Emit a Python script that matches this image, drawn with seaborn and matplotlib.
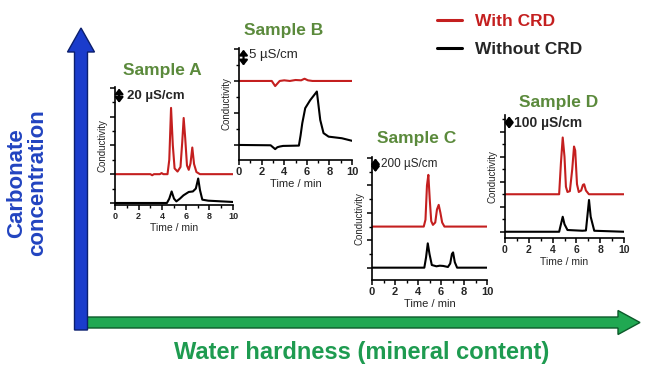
import matplotlib.pyplot as plt
import numpy as np
import seaborn as sns
from matplotlib.lines import Line2D
from matplotlib.patches import FancyArrow
from matplotlib.ticker import MultipleLocator

sns.set_theme(style="ticks")
plt.rcParams["font.family"] = ["Liberation Sans", "DejaVu Sans"]

W, H = 659, 379
RED = "#c41f1f"
OLIVE = "#5b8a3c"

# chromatograms: time (min) and conductivity above baseline (uS/cm)
time_a_crd = [0, 3.0, 3.15, 3.3, 3.8, 3.95, 4.1, 4.45, 4.6, 4.75, 4.9, 5.05, 5.3, 5.55, 5.7,
              5.82, 5.95, 6.1, 6.25, 6.4, 6.55, 6.7, 6.9, 7.2, 10]
cond_a_crd = [0, 0, -1.5, 0, 0, 1.5, 0, 0, 20, 92, 40, 8, 3.6, 10, 45,
              78, 50, 12, 6, 15, 37, 14, 3, 0, 0]
time_a_raw = [0, 4.4, 4.6, 4.8, 5.0, 5.2, 5.5, 5.8, 6.25, 6.6, 6.85, 7.05, 7.2, 7.4, 7.9, 10]
cond_a_raw = [0, 0, 6, 16, 6, 2.2, 6, 10.6, 15.3, 16, 20, 34, 18, 4.6, 3.2, 1.4]

time_b_crd = [0, 2.9, 3.2, 3.4, 3.6, 4.0, 4.5, 5.0, 5.5, 5.8, 6.1, 6.5, 10]
cond_b_crd = [0, 0, -1.6, -0.8, 0, 0.2, 0, 0.3, 0.2, 0.7, 0.2, 0, 0]
time_b_raw = [0, 2.8, 3.2, 3.4, 3.6, 3.9, 5.3, 5.45, 5.6, 5.86, 6.3, 6.74, 6.89, 7.19, 7.48,
              7.93, 9.1, 10]
cond_b_raw = [0, -0.1, -1.3, -0.7, -0.5, -0.3, -0.2, 3, 6.8, 11.5, 14, 16, 16.7, 7.8, 3.7,
              2.6, 2.1, 1.3]

time_c_crd = [0, 4.5, 4.65, 4.78, 4.9, 5.02, 5.15, 5.3, 5.5, 5.65, 5.8, 5.95, 6.1, 6.3, 10]
cond_c_crd = [0, 0, 100, 600, 755, 400, 80, 25, 60, 250, 317, 200, 60, 0, 0]
time_c_raw = [0, 4.55, 4.7, 4.85, 5.0, 5.2, 5.6, 5.9, 6.2, 6.6, 6.8, 6.95, 7.05, 7.2, 7.4, 10]
cond_c_raw = [0, 0, 150, 355, 200, 39, 20, 29, 25, 10, 60, 200, 223, 80, 0, 0]

time_d_crd = [0, 4.55, 4.7, 4.85, 5.0, 5.12, 5.25, 5.45, 5.65, 5.8, 5.9, 6.05, 6.2, 6.4,
              6.55, 6.65, 6.8, 7.05, 10]
cond_d_crd = [0, 0, 250, 454, 300, 60, 18, 25, 200, 382, 350, 80, 18, 30,
              75, 80, 30, 0, 0]
time_d_raw = [0, 4.55, 4.7, 4.85, 5.0, 5.25, 6.5, 6.8, 6.95, 7.06, 7.2, 7.5, 10]
cond_d_raw = [0, 0, 60, 120, 60, 14, 8, 10, 150, 254, 120, 8, 0]

sample_names = ["Sample A", "Sample B", "Sample C", "Sample D"]
scale_units = [20, 5, 200, 100]   # uS/cm shown by the scale bar
crd_offsets = [40, 20, 600, 300]  # vertical offset of the "with CRD" trace

fig = plt.figure(figsize=(W / 100, H / 100), dpi=100)

# background canvas in pixel units for the big arrows
bg = fig.add_axes([0, 0, 1, 1])
bg.set_xlim(0, W)
bg.set_ylim(H, 0)
bg.axis("off")
bg.add_patch(FancyArrow(82, 322.5, 558, 0, width=11, head_width=24, head_length=22,
                        length_includes_head=True, fc="#20a852", ec="#0c5a2a", lw=1, zorder=2))
bg.add_patch(FancyArrow(81, 330, 0, -302, width=13, head_width=27, head_length=24,
                        length_includes_head=True, fc="#1a3ccc", ec="#0b1f6e", lw=1, zorder=3))
bg.text(27, 183, "Carbonate\nconcentration", rotation=90, ha="center", va="center",
        multialignment="center", fontsize=16, fontweight="bold", color="#2244c0",
        linespacing=1.0)
bg.text(362, 353, "Water hardness (mineral content)", ha="center", va="center",
        fontsize=17, fontweight="bold", color="#1e9b50")

# inset layout: (left, top, right, bottom) in px, ylim, tick label size
layouts = [
    dict(box=(115, 87, 233, 205), ylim=(-2.8, 161), ts=6.5, xl=7.5, title=(162, 70),
         bar_x=0.35, txt_x=1.05, txt_y=148, bold=True, fs=9.5),
    dict(box=(239, 48, 352, 160), ylim=(-4.7, 30.3), ts=8, xl=8, title=(284, 30),
         bar_x=0.4, txt_x=0.85, txt_y=28, bold=False, fs=9.5),
    dict(box=(372, 157, 487, 280), ylim=(-180, 1616), ts=8, xl=8, title=(417, 138),
         bar_x=0.3, txt_x=0.75, txt_y=1520, bold=False, fs=8.5),
    dict(box=(505, 115, 624, 238), ylim=(-50, 934), ts=7.5, xl=7.5, title=(559, 102),
         bar_x=0.35, txt_x=0.75, txt_y=870, bold=True, fs=10),
]
traces = [
    (time_a_crd, cond_a_crd, time_a_raw, cond_a_raw),
    (time_b_crd, cond_b_crd, time_b_raw, cond_b_raw),
    (time_c_crd, cond_c_crd, time_c_raw, cond_c_raw),
    (time_d_crd, cond_d_crd, time_d_raw, cond_d_raw),
]

for name, unit, off, lay, (tc, vc, tr, vr) in zip(sample_names, scale_units, crd_offsets,
                                                  layouts, traces):
    l, t, r, b = lay["box"]
    ax = fig.add_axes([l / W, 1 - b / H, (r - l) / W, (b - t) / H])
    ax.patch.set_visible(False)
    sns.lineplot(x=tr, y=vr, ax=ax, color="black", linewidth=1.5, estimator=None)
    sns.lineplot(x=tc, y=np.array(vc) + off, ax=ax, color=RED, linewidth=1.5, estimator=None)
    ax.set_xlim(0, 10)
    ax.set_ylim(*lay["ylim"])
    sns.despine(ax=ax)
    for s in ("left", "bottom"):
        ax.spines[s].set_linewidth(1.2)
        ax.spines[s].set_color("black")
    ax.xaxis.set_major_locator(MultipleLocator(2))
    ax.xaxis.set_minor_locator(MultipleLocator(1))
    ax.yaxis.set_major_locator(MultipleLocator(2 * unit))
    ax.yaxis.set_minor_locator(MultipleLocator(unit))
    ax.tick_params(which="major", direction="out", length=3.5, width=1.1, color="black",
                   pad=1.5, labelsize=lay["ts"])
    ax.tick_params(which="minor", direction="out", length=2, width=1.0, color="black")
    ax.tick_params(axis="y", labelleft=False)
    for lbl in ax.get_xticklabels():
        lbl.set_fontweight("bold")
    ax.set_xlabel("Time / min", fontsize=lay["xl"], labelpad=1.5)
    ax.set_ylabel("Conductivity", fontsize=7, labelpad=0)
    top = lay["ylim"][1] - 0.1 * unit
    ax.annotate("", xy=(lay["bar_x"], top), xytext=(lay["bar_x"], top - unit),
                arrowprops=dict(arrowstyle="<|-|>,head_length=0.25,head_width=0.2",
                                color="black", lw=1.6, shrinkA=0, shrinkB=0),
                annotation_clip=False)
    ax.text(lay["txt_x"], lay["txt_y"], f"{unit} µS/cm", fontsize=lay["fs"], va="center",
            ha="left", fontweight="bold" if lay["bold"] else "normal")
    fig.text(lay["title"][0] / W, 1 - lay["title"][1] / H, name, ha="center", va="center",
             fontsize=12.5, fontweight="bold", color=OLIVE)

handles = [Line2D([], [], color=RED, lw=2.2), Line2D([], [], color="black", lw=2.2)]
leg = fig.legend(handles, ["With CRD", "Without CRD"], loc="center left",
                 bbox_to_anchor=(437 / W, 1 - 35.5 / H), frameon=False, borderpad=0,
                 borderaxespad=0, handlelength=1.45, handletextpad=0.75, labelspacing=0.75,
                 prop=dict(size=12.5, weight="bold"))
leg.get_texts()[0].set_color(RED)

fig.savefig("out.png", dpi=100)
